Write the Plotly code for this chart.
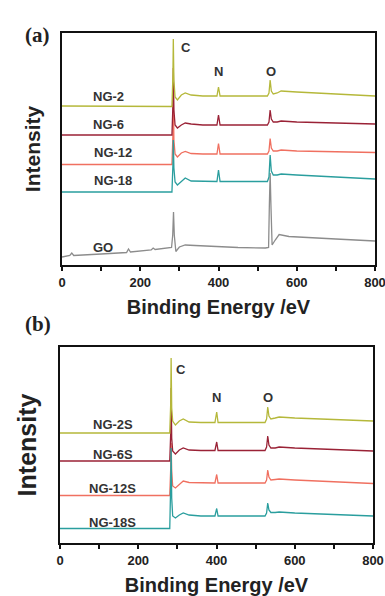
import plotly.graph_objects as go

# ---------------- Panel (a) data (binding energy eV, intensity a.u.) ----------------
E_ng = [0, 100, 200, 270, 281, 283.5, 284.5, 286, 289, 295, 305, 315, 330, 360, 390, 396,
        400, 404, 410, 450, 500, 525, 529, 532, 535, 540, 550, 560, 600, 700, 800]

ng2 = [159, 159, 158.5, 158.5, 158.5, 190, 226, 185, 168, 165, 170, 172, 170, 169, 169, 169,
       178, 169, 169, 169, 169, 169, 172, 185, 174, 171, 172, 174, 173, 171, 169]
ng6 = [130, 130, 130, 130, 130, 160, 197, 155, 140, 137, 140, 142, 141, 140, 140, 140,
       150, 140, 140, 140, 140, 140, 143, 155, 146, 143, 143, 144, 143, 142, 141]
ng12 = [100.5, 100.5, 100.5, 100.5, 100.5, 130, 170, 125, 111, 108, 112, 113.5, 111.5, 111, 111, 111,
        121.5, 111, 111, 111, 111, 111, 114, 126.5, 117, 114, 114, 115, 114, 113, 112.5]
ng18 = [73, 73, 73, 73, 73, 100, 125, 97, 83, 80, 84, 87, 84, 83.5, 83.5, 83.5,
        95, 83.5, 83.5, 83.5, 83.5, 83.5, 88, 110, 94, 90, 90, 91, 90, 88, 86]

E_go = [0, 20, 25, 30, 100, 165, 170, 175, 228, 233, 238, 280, 283, 285, 287, 291, 300, 315,
        340, 400, 450, 520, 528, 530, 532, 534, 537, 545, 555, 580, 600, 700, 800]
go_int = [8, 9.5, 12, 9.5, 11, 12.5, 16, 13, 15, 17, 15.5, 17.5, 30, 53, 30, 13.5, 18, 20,
          19.5, 18, 17.5, 17, 17.5, 60, 92, 60, 20, 25, 30.5, 28.5, 28, 26, 24]

# ---------------- Panel (b) data ----------------
E_ngs = [0, 100, 200, 270, 280.5, 283, 284, 285.5, 288, 295, 305, 315, 330, 360, 390, 396,
         400.5, 404, 410, 450, 500, 524, 528, 531, 534, 539, 550, 560, 600, 700, 800]

ng2s = [110, 110, 110, 110, 110, 140, 185, 135, 122, 118, 122, 124, 121, 120.5, 120.5, 120.5,
        131, 120.5, 120.5, 120.5, 120.5, 120.5, 124, 136, 127, 124, 125, 126, 125, 123.5, 122]
ng6s = [82, 82, 82, 82, 82, 110, 155, 105, 92, 89, 93, 95, 93, 92.5, 92.5, 92.5,
        101, 92.5, 92.5, 92.5, 92.5, 92.5, 96, 107, 98, 95, 95, 96, 95, 93.5, 92]
ng12s = [47.5, 47.5, 47.5, 47.5, 47.5, 75, 100, 72, 57, 55, 59, 62, 60.5, 60, 60, 60,
         68.5, 60, 60, 60, 60, 60, 63, 73, 66, 63, 63.5, 64, 63, 61, 59.5]
ng18s = [14.5, 14.5, 14.5, 14.5, 14.5, 60, 95, 45, 27, 25, 28, 30, 28, 27, 27, 27,
         34.5, 27, 27, 27, 27, 27, 30, 40, 33, 30.5, 30.5, 31, 30, 28.5, 27]

# ---------------- labels ----------------
labels_a = ["NG-2", "NG-6", "NG-12", "NG-18", "GO"]
labels_b = ["NG-2S", "NG-6S", "NG-12S", "NG-18S"]
colors = ["#b5b83a", "#9a2236", "#f07060", "#2a9e9e", "#8c8c8c"]
xticks = [0, 100, 200, 300, 400, 500, 600, 700, 800]
xticktext = ["0", "", "200", "", "400", "", "600", "", "800"]

fig = go.Figure()

fig.add_trace(go.Scatter(x=E_go, y=go_int, mode="lines", line=dict(color=colors[4], width=1.3),
                         xaxis="x", yaxis="y", name="GO"))
for i in [2, 1, 3, 0]:
    ys = [ng2, ng6, ng12, ng18][i]
    fig.add_trace(go.Scatter(x=E_ng, y=ys, mode="lines", line=dict(color=colors[i], width=1.3),
                             xaxis="x", yaxis="y", name=labels_a[i]))

for i in [2, 1, 3, 0]:
    ys = [ng2s, ng6s, ng12s, ng18s][i]
    fig.add_trace(go.Scatter(x=E_ngs, y=ys, mode="lines", line=dict(color=colors[i], width=1.3),
                             xaxis="x2", yaxis="y2", name=labels_b[i]))

lab_font = dict(family="Liberation Sans, Arial", size=13, color="#333333")
lab_pos_a = [(120, 168), (120, 140), (130, 112), (130, 84), (105, 17)]
for (x, y), t in zip(lab_pos_a, labels_a):
    fig.add_annotation(x=x, y=y, xref="x", yref="y", text="<b>%s</b>" % t, showarrow=False,
                       font=lab_font)
lab_pos_b = [(135, 119), (135, 89), (135, 54.5), (135, 21)]
for (x, y), t in zip(lab_pos_b, labels_b):
    fig.add_annotation(x=x, y=y, xref="x2", yref="y2", text="<b>%s</b>" % t, showarrow=False,
                       font=lab_font)

elem = ["C", "N", "O"]
elem_pos_a = [(318, 217), (401, 193), (534, 193)]
elem_pos_b = [(309, 174), (400, 145.5), (532, 145.5)]
for (x, y), t in zip(elem_pos_a, elem):
    fig.add_annotation(x=x, y=y, xref="x", yref="y", text="<b>%s</b>" % t, showarrow=False,
                       font=lab_font)
for (x, y), t in zip(elem_pos_b, elem):
    fig.add_annotation(x=x, y=y, xref="x2", yref="y2", text="<b>%s</b>" % t, showarrow=False,
                       font=lab_font)

serif = dict(family="Liberation Serif, Times New Roman", size=21, color="#222222")
fig.add_annotation(x=23 / 385, y=1 - 21 / 596, xref="paper", yref="paper", text="<b>(a)</b>",
                   showarrow=False, font=serif)
fig.add_annotation(x=23 / 385, y=1 - 324 / 596, xref="paper", yref="paper", text="<b>(b)</b>",
                   showarrow=False, font=serif)

title_font = dict(family="Liberation Sans, Arial", size=20, color="#222222", weight="bold")
tick_font = dict(family="Liberation Sans, Arial", size=13, color="#222222", weight="bold")


def xax(domain, anchor):
    return dict(domain=domain, anchor=anchor, range=[0, 800], showline=True, mirror=True,
                linecolor="#111111", linewidth=2, ticks="outside", ticklen=4, tickwidth=1.5,
                tickcolor="#111111", tickvals=xticks, ticktext=xticktext,
                ticklabeloverflow="allow",
                tickfont=tick_font, showgrid=False, zeroline=False, automargin=False,
                title=dict(text="Binding Energy /eV", font=title_font, standoff=11))


def yax(domain, anchor, rng, size):
    return dict(domain=domain, anchor=anchor, range=rng, showline=True, mirror=True,
                linecolor="#111111", linewidth=2, ticks="", showticklabels=False,
                showgrid=False, zeroline=False, automargin=False,
                title=dict(text="Intensity", standoff=14,
                           font=dict(family="Liberation Sans, Arial", size=size,
                                     color="#222222", weight="bold")))


fig.update_layout(
    width=385, height=596, margin=dict(l=0, r=0, t=0, b=0),
    paper_bgcolor="white", plot_bgcolor="white", showlegend=False,
    xaxis=xax([62 / 385, 375 / 385], "y"),
    yaxis=yax([1 - 265 / 596, 1 - 33 / 596], "x", [0, 232], 21),
    xaxis2=xax([60 / 385, 373 / 385], "y2"),
    yaxis2=yax([1 - 543 / 596, 1 - 347 / 596], "x2", [0, 196], 25),
)

fig.write_html("out.html")
